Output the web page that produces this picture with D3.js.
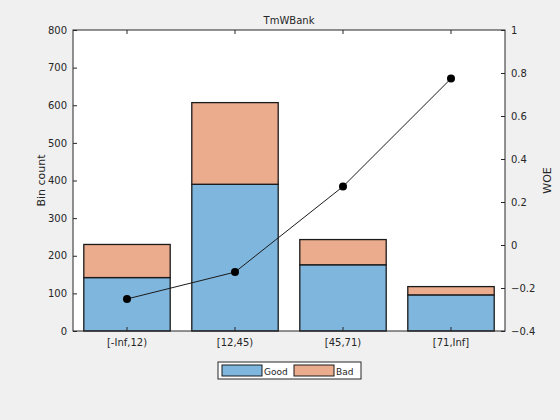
<!DOCTYPE html>
<html lang="en">
<head>
<meta charset="UTF-8">
<title>TmWBank</title>
<script src="https://d3js.org/d3.v7.min.js"></script>
<style>
  body { margin: 0; background: #f0f0f0; }
  text { font-family: "DejaVu Sans", sans-serif; font-size: 10px; fill: #262626; }
</style>
</head>
<body>
<div id="chart"></div>
<script>
// data
const bins = ["[-Inf,12)", "[12,45)", "[45,71)", "[71,Inf]"];
const good = [142, 390, 176, 96];
const bad = [88, 217, 67, 22];
const woe = [-0.251, -0.126, 0.272, 0.774];
const leftTicks = [0, 100, 200, 300, 400, 500, 600, 700, 800];
const rightTicks = [-0.4, -0.2, 0, 0.2, 0.4, 0.6, 0.8, 1];

const W = 560, H = 420;
const m = {top: 30, right: 55, bottom: 89, left: 73};
const w = W - m.left - m.right, h = H - m.top - m.bottom;

const svg = d3.select("#chart").append("svg").attr("width", W).attr("height", H);
const g = svg.append("g").attr("transform", `translate(${m.left},${m.top})`);

g.append("rect").attr("width", w).attr("height", h).attr("fill", "white");

const x = d3.scaleBand().domain(bins).range([0, w]).paddingInner(0.2).paddingOuter(0.1);
const y = d3.scaleLinear().domain([0, 800]).range([h, 0]);
const y2 = d3.scaleLinear().domain([-0.4, 1]).range([h, 0]);

const rows = bins.map((b, i) => ({bin: b, good: good[i], bad: bad[i]}));
const stack = d3.stack().keys(["good", "bad"])(rows);
const colors = {good: "#7eb6de", bad: "#ebab8d"};

g.selectAll("g.layer").data(stack).join("g")
  .attr("fill", d => colors[d.key])
  .selectAll("rect").data(d => d).join("rect")
  .attr("x", d => x(d.data.bin))
  .attr("y", d => y(d[1]))
  .attr("width", x.bandwidth())
  .attr("height", d => y(d[0]) - y(d[1]))
  .attr("stroke", "#1a1a1a").attr("stroke-width", 1.3);

// WOE line
const cx = b => x(b) + x.bandwidth() / 2;
g.append("path").datum(woe)
  .attr("fill", "none").attr("stroke", "#1a1a1a").attr("stroke-width", 1)
  .attr("d", d3.line().x((d, i) => cx(bins[i])).y(d => y2(d)));
g.selectAll("circle").data(woe).join("circle")
  .attr("cx", (d, i) => cx(bins[i])).attr("cy", d => y2(d)).attr("r", 4).attr("fill", "black");

// axes
const ax = g.append("g").attr("transform", `translate(0,${h})`)
  .call(d3.axisBottom(x).tickSizeInner(-4).tickSizeOuter(0).tickPadding(8));
g.append("g").call(d3.axisTop(x).tickSizeInner(-4).tickSizeOuter(0).tickFormat(""));
g.append("g").call(d3.axisLeft(y).tickValues(leftTicks).tickSizeInner(-4).tickSizeOuter(0).tickPadding(6));
g.append("g").attr("transform", `translate(${w},0)`)
  .call(d3.axisRight(y2).tickValues(rightTicks).tickSizeInner(-4).tickSizeOuter(0).tickPadding(6)
    .tickFormat(d => d === 0 ? "0" : d3.format("")(+d.toFixed(1))));
g.selectAll(".domain").remove();
g.selectAll(".tick line").attr("stroke", "#262626");
g.append("rect").attr("width", w).attr("height", h).attr("fill", "none").attr("stroke", "#262626");

// labels
svg.append("text").attr("x", m.left + w / 2).attr("y", m.top - 6).attr("text-anchor", "middle").text("TmWBank");
svg.append("text").attr("transform", `translate(45,${m.top + h / 2}) rotate(-90)`).attr("text-anchor", "middle")
  .style("font-size", "11px").text("Bin count");
svg.append("text").attr("transform", `translate(551,${m.top + h / 2}) rotate(-90)`).attr("text-anchor", "middle")
  .style("font-size", "11px").text("WOE");

// legend
const lg = svg.append("g").attr("transform", "translate(218,362)");
lg.append("rect").attr("width", 143).attr("height", 17).attr("fill", "white").attr("stroke", "#262626");
[["Good", colors.good, 4], ["Bad", colors.bad, 76]].forEach(([t, c, lx]) => {
  lg.append("rect").attr("x", lx).attr("y", 3).attr("width", 40).attr("height", 11).attr("fill", c).attr("stroke", "#1a1a1a");
  lg.append("text").attr("x", lx + 42).attr("y", 12.5).style("font-size", "9px").text(t);
});
</script>
</body>
</html>
